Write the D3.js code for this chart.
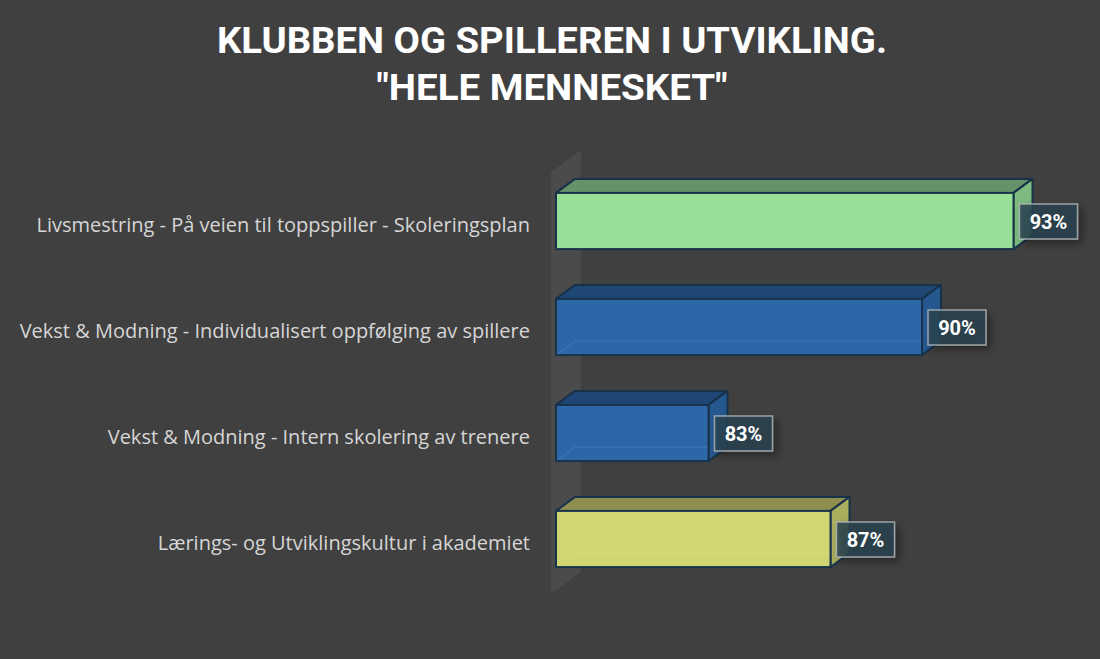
<!DOCTYPE html>
<html>
<head>
<meta charset="utf-8">
<script src="https://cdn.jsdelivr.net/npm/d3@7"></script>
<style>
  html, body { margin: 0; padding: 0; background: #404040; }
  svg { display: block; }
</style>
</head>
<body>
<div id="chart"></div>
<script>
// Chart data
const categories = [
    "Livsmestring - På veien til toppspiller - Skoleringsplan",
    "Vekst & Modning - Individualisert oppfølging av spillere",
    "Vekst & Modning - Intern skolering av trenere",
    "Lærings- og Utviklingskultur i akademiet"
];
const values = [0.93, 0.90, 0.83, 0.87];
const titleLines = ["KLUBBEN OG SPILLEREN I UTVIKLING.", "\"HELE MENNESKET\""];
const axisMin = 0.78;
const axisMax = 0.94;

// face colours per bar: front, top, side
const palette = [
    { front: "#98e098", top: "#66926a", side: "#7dbb80" },
    { front: "#2e67a8", top: "#1f4775", side: "#265890" },
    { front: "#2e67a8", top: "#1f4775", side: "#265890" },
    { front: "#d1d672", top: "#8e8f4f", side: "#aaae5d" }
];

const width = 1100, height = 659;
const depth = { dx: 19, dy: -14 };

const svg = d3.select("#chart")
    .append("svg")
    .attr("width", width)
    .attr("height", height);

svg.append("rect")
    .attr("width", width)
    .attr("height", height)
    .attr("fill", "#404040");

// Drop shadow for the value boxes
const defs = svg.append("defs");
defs.append("filter")
    .attr("id", "shadow")
    .attr("x", "-30%").attr("y", "-30%")
    .attr("width", "170%").attr("height", "190%")
    .append("feDropShadow")
    .attr("dx", 4).attr("dy", 4)
    .attr("stdDeviation", 4)
    .attr("flood-color", "#000")
    .attr("flood-opacity", 0.45);

// Title
svg.selectAll(".title")
    .data(titleLines)
    .enter().append("text")
    .attr("class", "title")
    .attr("x", 552)
    .attr("y", (d, i) => 53 + i * 47)
    .attr("text-anchor", "middle")
    .attr("font-family", "'Liberation Sans Narrow', Roboto, 'DejaVu Sans Condensed', sans-serif")
    .attr("font-weight", "bold")
    .attr("font-size", 36)
    .attr("fill", "#ffffff")
    .attr("textLength", (d, i) => i === 0 ? 670 : 351)
    .attr("lengthAdjust", "spacingAndGlyphs")
    .text(d => d);

// Scales
const x = d3.scaleLinear()
    .domain([axisMin, axisMax])
    .range([556, 1044]);

const y = d3.scaleBand()
    .domain(categories)
    .range([168, 592])
    .paddingInner(0.47)
    .paddingOuter(0.235);

// Back wall on the left side of the plot
const wx = x(axisMin) - 5;
const [wy0, wy1] = y.range();
svg.append("polygon")
    .attr("points", [
        [wx, wy0 + 4], [wx + 30, wy0 - 18],
        [wx + 30, wy1 - 20], [wx, wy1 + 2]
    ].map(p => p.join(",")).join(" "))
    .attr("fill", "#4b4b4b");

// Category labels
svg.selectAll(".cat")
    .data(categories)
    .enter().append("text")
    .attr("class", "cat")
    .attr("x", 530)
    .attr("y", d => y(d) + y.bandwidth() / 2 + 11)
    .attr("text-anchor", "end")
    .attr("font-family", "'Open Sans', Lato, sans-serif")
    .attr("font-size", 20)
    .attr("fill", "#d6d6d6")
    .text(d => d);

// 3D bars
const bars = svg.selectAll(".bar")
    .data(values.map((v, i) => ({ cat: categories[i], value: v, col: palette[i] })))
    .enter().append("g")
    .attr("class", "bar");

const pts = arr => arr.map(p => p.join(",")).join(" ");

bars.each(function(d) {
    const g = d3.select(this);
    const x0 = x(axisMin), x1 = x(d.value);
    const y0 = y(d.cat), h = y.bandwidth();
    const { dx, dy } = depth;

    // hidden back edges seen through the faces
    g.append("path")
        .attr("d", `M${x0 + dx},${y0 + dy}V${y0 + h + dy}H${x1 + dx}`)
        .attr("fill", "none")
        .attr("stroke", "#ffffff")
        .attr("stroke-opacity", 0.12)
        .attr("stroke-width", 1);

    g.append("polygon")
        .attr("points", pts([[x0, y0], [x0 + dx, y0 + dy], [x1 + dx, y0 + dy], [x1, y0]]))
        .attr("fill", d.col.top)
        .attr("stroke", "#18324a")
        .attr("stroke-width", 2)
        .attr("stroke-linejoin", "round");

    g.append("polygon")
        .attr("points", pts([[x1, y0], [x1 + dx, y0 + dy], [x1 + dx, y0 + h + dy], [x1, y0 + h]]))
        .attr("fill", d.col.side)
        .attr("stroke", "#18324a")
        .attr("stroke-width", 2)
        .attr("stroke-linejoin", "round");

    g.append("rect")
        .attr("x", x0)
        .attr("y", y0)
        .attr("width", x1 - x0)
        .attr("height", h)
        .attr("fill", d.col.front)
        .attr("stroke", "#18324a")
        .attr("stroke-width", 2);

    // faint inner edges on the front
    g.append("path")
        .attr("d", `M${x0},${y0 + h}L${x0 + dx},${y0 + h + dy}H${x1}`)
        .attr("fill", "none")
        .attr("stroke", "#ffffff")
        .attr("stroke-opacity", 0.1)
        .attr("stroke-width", 1);
});

// Value boxes
const labels = bars.append("g")
    .attr("transform", d => `translate(${x(d.value) + 6},${y(d.cat) + y.bandwidth() / 2})`);

labels.append("rect")
    .attr("x", 0)
    .attr("y", -17)
    .attr("width", 58)
    .attr("height", 35)
    .attr("fill", "#2c4250")
    .attr("fill-opacity", 0.85)
    .attr("stroke", "#b4babd")
    .attr("stroke-opacity", 0.8)
    .attr("stroke-width", 1.5)
    .attr("filter", "url(#shadow)");

labels.append("text")
    .attr("x", 29)
    .attr("y", 8)
    .attr("text-anchor", "middle")
    .attr("font-family", "Roboto, 'Open Sans', sans-serif")
    .attr("font-weight", "bold")
    .attr("font-size", 20)
    .attr("fill", "#ffffff")
    .text(d => d3.format(".0%")(d.value));
</script>
</body>
</html>
